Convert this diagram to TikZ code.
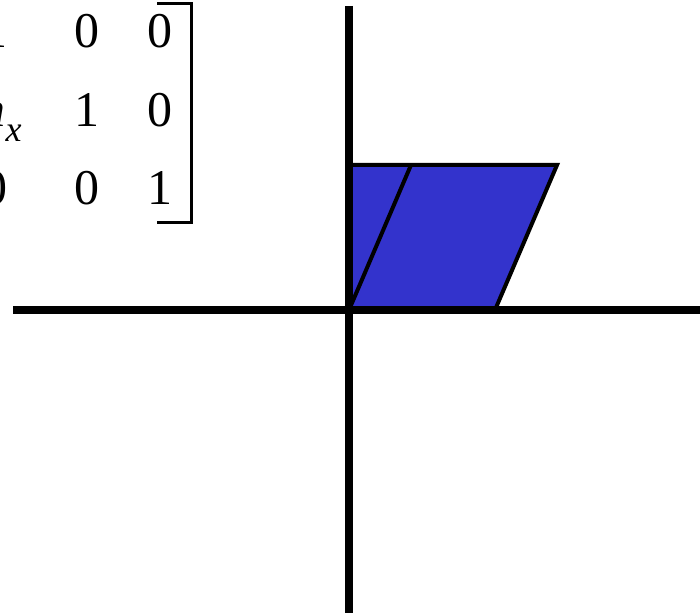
\documentclass[tikz,border=0pt]{standalone}
\usepackage{fontspec}
\setmainfont{Liberation Serif}
\definecolor{clShape}{HTML}{3333CC}
\tikzset{
  axis/.style={line width=3.6pt, draw=black},
  entry/.style={font=\fontsize{25}{30}\selectfont, inner sep=0pt, anchor=base},
  bracket/.style={line width=1.5pt, draw=black},
  sheared/.style={line width=2pt, draw=black, fill=clShape, line join=miter},
}
\begin{document}
\begin{tikzpicture}[x=0.5pt, y=-0.5pt]
  \useasboundingbox (0,0) rectangle (700,613);
  \clip (0,0) rectangle (700,613);
  % shear matrix (cut at the left edge)
  \node[entry] (m11) at (-5,48) {1};
  \node[entry] (m12) at (87,48) {0};
  \node[entry] (m13) at (160,48) {0};
  \node[entry, anchor=base east] (m21) at (22,127) {\textit{sh}\raisebox{-0.3em}{\fontsize{18}{20}\selectfont\textit{x}}};
  \node[entry] (m22) at (87,127) {1};
  \node[entry] (m23) at (160,127) {0};
  \node[entry] (m31) at (-5,205) {0};
  \node[entry] (m32) at (87,205) {0};
  \node[entry] (m33) at (160,205) {1};
  \coordinate (brtop) at (191,4);
  \coordinate (brbot) at (191,223);
  \draw[bracket] ([xshift=-17]brtop) -- (brtop) -- (brbot) -- ([xshift=-17]brbot);
  % sheared square
  \coordinate (o) at (349,310);
  \coordinate (b) at (495,310);
  \coordinate (c) at (557,165);
  \coordinate (t) at (349,165);
  \coordinate (s) at (411,165);
  \fill[clShape] (o) -- (b) -- (c) -- (t) -- cycle;
  \draw[sheared, fill=none] (t) -- (c) -- (b);
  \draw[sheared] (o) -- (s);
  % axes
  \coordinate (xl) at (13,310);
  \coordinate (xr) at (700,310);
  \coordinate (yt) at (349,6);
  \coordinate (yb) at (349,613);
  \draw[axis] (xl) -- (xr);
  \draw[axis] (yt) -- (yb);
\end{tikzpicture}
\end{document}
